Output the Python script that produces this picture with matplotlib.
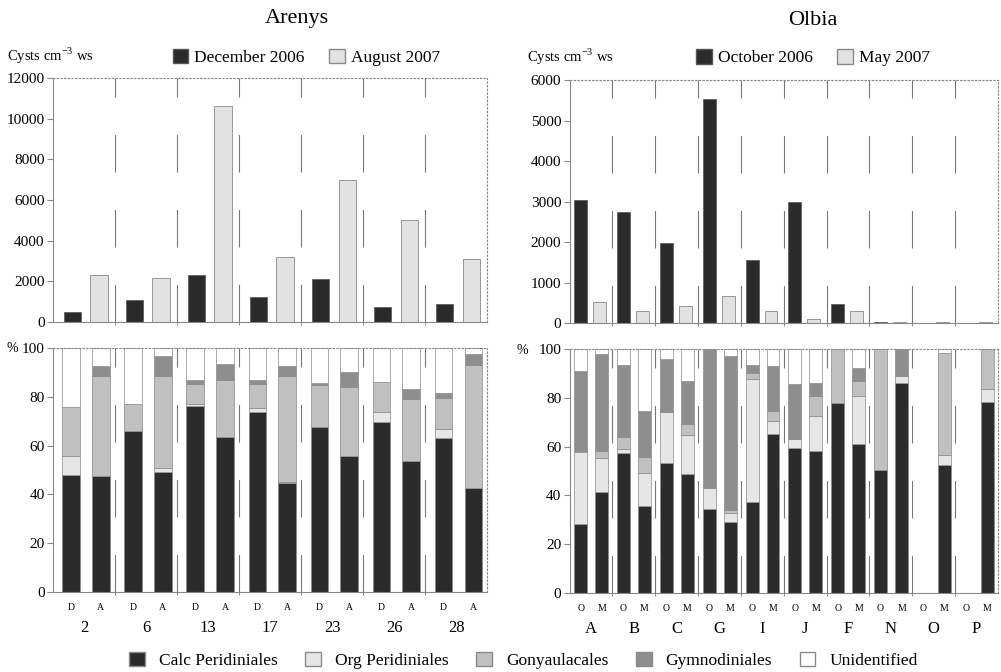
import numpy as np
import matplotlib.pyplot as plt
import matplotlib
from matplotlib.patches import Patch

matplotlib.rcParams['font.family'] = ['Liberation Serif', 'DejaVu Serif']
matplotlib.rcParams['mathtext.fontset'] = 'custom'
matplotlib.rcParams['mathtext.rm'] = 'Liberation Serif'
matplotlib.rcParams['lines.scale_dashes'] = False

# ---- data ----
ar_sites = ['2', '6', '13', '17', '23', '26', '28']
ar_dec = [490, 1070, 2330, 1230, 2130, 740, 900]
ar_aug = [2330, 2160, 10600, 3200, 6970, 5000, 3080]

ol_sites = ['A', 'B', 'C', 'G', 'I', 'J', 'F', 'N', 'O', 'P']
ol_oct = [3030, 2745, 1990, 5520, 1565, 3000, 480, 25, 0, 0]
ol_may = [520, 313, 437, 660, 313, 107, 313, 40, 40, 40]

# percentages, bar order: 2D, 2A, 6D, 6A, ...
ar_calc = [47.9, 47.5, 66.2, 49.3, 76.3, 63.7, 73.7, 44.5, 67.5, 55.8, 69.6, 53.8, 63.0, 42.6]
ar_org = [7.9, 0, 0, 1.4, 0.8, 0, 1.6, 0.7, 0, 0, 4.4, 0, 3.7, 0]
ar_gony = [20.0, 41.1, 10.9, 37.9, 8.1, 23.3, 9.9, 43.2, 17.4, 28.2, 12.3, 25.2, 12.8, 50.6]
ar_gymn = [0, 3.9, 0, 8.0, 1.8, 6.3, 1.8, 4.1, 0.7, 6.4, 0, 4.2, 2.0, 4.5]
ar_unid = [24.2, 7.5, 22.9, 3.4, 13.0, 6.7, 13.0, 7.5, 14.4, 9.6, 13.7, 16.8, 18.5, 2.3]

# bar order: AO, AM, BO, BM, ...
ol_calc = [28.2, 41.3, 57.4, 35.6, 53.4, 48.6, 34.5, 29.0, 37.4, 65.1,
           59.6, 58.2, 77.8, 61.2, 50.3, 86.3, 0, 52.7, 0, 78.4]
ol_org = [29.5, 14.0, 1.5, 13.5, 20.8, 16.1, 8.7, 3.9, 50.3, 5.5,
          3.4, 14.4, 0, 19.6, 0, 2.7, 0, 4.1, 0, 5.2]
ol_gony = [0.5, 3.0, 5.3, 6.6, 0, 4.5, 0, 1.3, 2.7, 4.1,
           0, 8.2, 22.2, 6.2, 49.7, 0, 0, 41.8, 0, 16.4]
ol_gymn = [33.0, 40.0, 29.6, 19.1, 22.0, 17.8, 56.8, 63.1, 3.4, 18.5,
           22.6, 5.5, 0, 5.5, 0, 11.0, 0, 0, 0, 0]
ol_unid = [8.8, 1.7, 6.2, 25.2, 3.8, 13.0, 0, 2.7, 6.2, 6.8,
           14.4, 13.7, 0, 7.5, 0, 0, 0, 1.4, 0, 0]

groups = ['Calc Peridiniales', 'Org Peridiniales', 'Gonyaulacales', 'Gymnodiniales', 'Unidentified']
gcolors = ['#2b2b2b', '#e6e6e6', '#c0c0c0', '#8e8e8e', 'white']
dark = '#2b2b2b'
light = '#e2e2e2'
edge = '#8a8a8a'


def frame(ax, n, ymax, step):
    ax.set_xlim(0, n)
    ax.set_ylim(0, ymax)
    ax.set_yticks(np.arange(0, ymax + 1, step))
    for s in ['left', 'bottom', 'top', 'right']:
        ax.spines[s].set_color('#888888')
        ax.spines[s].set_linewidth(0.8)
    ax.spines['top'].set_linestyle(':')
    ax.spines['right'].set_linestyle(':')
    ax.tick_params(axis='y', length=4, color='#888888', labelsize=11, pad=2)
    for i in range(1, n):
        ax.axvline(i, color='#777777', lw=0.8, dashes=(27, 27), zorder=0.5)
    ax.set_xticks(np.arange(1, n), minor=True)
    ax.tick_params(axis='x', which='minor', direction='inout', length=5, color='#777777')


def top_bars(ax, v1, v2, p1, p2, w):
    n = len(v1)
    x = np.arange(n)
    v1 = np.array(v1, float)
    v2 = np.array(v2, float)
    m1 = v1 > 0
    ax.bar(x[m1] + p1, v1[m1], w, color=dark, edgecolor='#555555', lw=0.5, zorder=2)
    ax.bar(x + p2, v2, w, color=light, edgecolor=edge, lw=0.6, zorder=2)
    ax.set_xticks([])
    ax.set_xticks(np.arange(1, n), minor=True)


def stacked(ax, parts, p1, p2, w, sites, l1, l2):
    n = len(sites)
    pos = np.ravel([[i + p1, i + p2] for i in range(n)])
    base = np.zeros(len(pos))
    for vals, col in zip(parts, gcolors):
        vals = np.array(vals, float)
        m = vals > 0
        ax.bar(pos[m], vals[m], w, bottom=base[m], color=col, edgecolor=edge, lw=0.5, zorder=2)
        base += vals
    ax.set_xticks(pos)
    ax.set_xticklabels([l1, l2] * n, fontsize=7)
    ax.tick_params(axis='x', which='major', length=0, pad=8)
    for i, s in enumerate(sites):
        ax.annotate(s, xy=(i + 0.5, 0), xycoords=('data', 'axes fraction'),
                    xytext=(0, -26), textcoords='offset points',
                    ha='center', va='center', fontsize=12)


fig = plt.figure(figsize=(10.01, 6.72), dpi=100)
ax1 = fig.add_axes([0.053, 0.521, 0.434, 0.363])
ax2 = fig.add_axes([0.053, 0.119, 0.434, 0.363])
ax3 = fig.add_axes([0.569, 0.519, 0.428, 0.362])
ax4 = fig.add_axes([0.569, 0.118, 0.428, 0.362])

top_bars(ax1, ar_dec, ar_aug, 0.31, 0.74, 0.28)
frame(ax1, len(ar_sites), 12000, 2000)
top_bars(ax3, ol_oct, ol_may, 0.26, 0.70, 0.30)
frame(ax3, len(ol_sites), 6000, 1000)

stacked(ax2, [ar_calc, ar_org, ar_gony, ar_gymn, ar_unid], 0.29, 0.77, 0.28, ar_sites, 'D', 'A')
frame(ax2, len(ar_sites), 100, 20)
stacked(ax4, [ol_calc, ol_org, ol_gony, ol_gymn, ol_unid], 0.26, 0.75, 0.30, ol_sites, 'O', 'M')
frame(ax4, len(ol_sites), 100, 20)

fig.text(0.297, 0.972, 'Arenys', ha='center', va='center', fontsize=16)
fig.text(0.812, 0.970, 'Olbia', ha='center', va='center', fontsize=16)
fig.text(0.007, 0.917, r'Cysts cm$^{-3}$ ws', ha='left', va='center', fontsize=10.5)
fig.text(0.526, 0.915, r'Cysts cm$^{-3}$ ws', ha='left', va='center', fontsize=10.5)
fig.text(0.006, 0.482, '%', ha='left', va='center', fontsize=10)
fig.text(0.516, 0.479, '%', ha='left', va='center', fontsize=10)

leg_kw = dict(loc='center', frameon=False, ncol=2, fontsize=12.5, handlelength=0.9,
              handleheight=0.9, handletextpad=0.35, columnspacing=1.4, borderpad=0)
fig.legend(handles=[Patch(fc=dark, ec='#555555', label='December 2006'),
                    Patch(fc=light, ec=edge, label='August 2007')],
           bbox_to_anchor=(0.306, 0.915), **leg_kw)
fig.legend(handles=[Patch(fc=dark, ec='#555555', label='October 2006'),
                    Patch(fc=light, ec=edge, label='May 2007')],
           bbox_to_anchor=(0.812, 0.914), **leg_kw)

fig.legend(handles=[Patch(fc=c, ec=edge, label=g) for g, c in zip(groups, gcolors)],
           loc='center', bbox_to_anchor=(0.523, 0.017), ncol=5, frameon=False,
           fontsize=12.5, handlelength=0.9, handleheight=0.9, handletextpad=0.8,
           columnspacing=1.6, borderpad=0)

plt.savefig('out.png', dpi=100)
